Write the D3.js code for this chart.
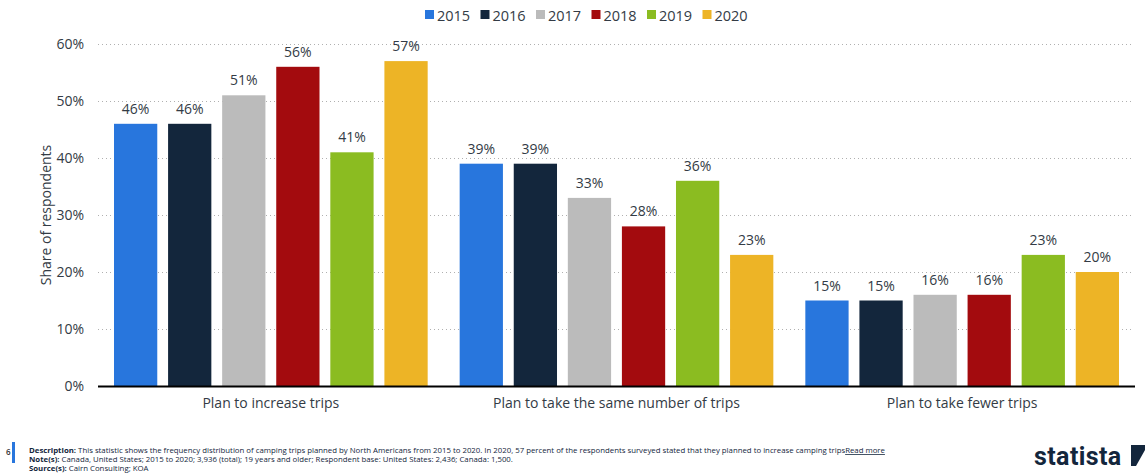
<!DOCTYPE html>
<html><head><meta charset="utf-8">
<script src="https://cdn.jsdelivr.net/npm/d3@7"></script>
<style>
body{margin:0;background:#fff;font-family:"Open Sans","Noto Sans",sans-serif;}
svg{display:block}
</style></head>
<body><svg id="c" width="1145" height="476"></svg>
<script>
const categories = ["Plan to increase trips","Plan to take the same number of trips","Plan to take fewer trips"];
const years = ["2015","2016","2017","2018","2019","2020"];
const values2015 = [46,39,15];
const values2016 = [46,39,15];
const values2017 = [51,33,16];
const values2018 = [56,28,16];
const values2019 = [41,36,23];
const values2020 = [57,23,20];
const yTicks = [0,10,20,30,40,50,60];
const colors = ["#2876dd","#13263c","#bbbbbb","#a30b0e","#8bbc21","#edb426"];

(function(){
const series = [values2015,values2016,values2017,values2018,values2019,values2020];
const svg = d3.select("#c");
const pLeft=98, pRight=1135, pTop=44, pBottom=386;
const x0 = d3.scaleBand().domain(categories).range([pLeft,pRight]);
const x1 = d3.scaleBand().domain(years).range([16, x0.bandwidth()-16]).paddingInner(0.2);
const y = d3.scaleLinear().domain([0,60]).range([pBottom,pTop]);
const textCol = "#333b45";

svg.append("g").selectAll("line").data(yTicks.filter(d=>d>0)).join("line")
  .attr("x1",pLeft).attr("x2",pRight-3).attr("y1",d=>y(d)+0.5).attr("y2",d=>y(d)+0.5)
  .attr("stroke","#b0b0b0").attr("stroke-width",1).attr("stroke-dasharray","1,3");

const yAxis = d3.axisLeft(y).tickValues(yTicks).tickFormat(d=>d+"%").tickSize(0).tickPadding(0);
const ga = svg.append("g").attr("transform",`translate(84,0)`).call(yAxis);
ga.select(".domain").remove();
ga.selectAll("text").attr("fill",textCol).attr("font-size",14).attr("font-family","Open Sans");

svg.append("text").attr("transform","translate(51,215) rotate(-90)").attr("text-anchor","middle")
  .attr("font-size",14).attr("fill",textCol).text("Share of respondents");

const groups = svg.append("g").selectAll("g").data(categories).join("g")
  .attr("transform",d=>`translate(${x0(d)},0)`);
groups.each(function(cat,ci){
  const g = d3.select(this);
  years.forEach((yr,yi)=>{
    const v = series[yi][ci];
    g.append("rect").attr("x",x1(yr)).attr("width",x1.bandwidth())
      .attr("y",y(v)).attr("height",y(0)-y(v)).attr("fill",colors[yi]);
    g.append("text").attr("x",x1(yr)+x1.bandwidth()/2).attr("y",y(v)-10)
      .attr("text-anchor","middle").attr("font-size",14).attr("fill",textCol).text(v+"%");
  });
});

svg.append("line").attr("x1",pLeft).attr("x2",pRight).attr("y1",pBottom+0.5).attr("y2",pBottom+0.5)
  .attr("stroke","#000").attr("stroke-width",2);

const xAxis = d3.axisBottom(x0).tickSize(0).tickPadding(0);
const gx = svg.append("g").attr("transform",`translate(0,${pBottom+12})`).call(xAxis);
gx.select(".domain").remove();
gx.selectAll("text").attr("fill",textCol).attr("font-size",14).attr("font-family","Open Sans").attr("dy","0.71em");

const lg = svg.append("g").selectAll("g").data(years).join("g")
  .attr("transform",(d,i)=>`translate(${425+i*55.5},0)`);
lg.append("rect").attr("x",0).attr("y",10).attr("width",9).attr("height",9).attr("fill",(d,i)=>colors[i]);
lg.append("text").attr("x",12).attr("y",20.5).attr("font-size",14.5).attr("fill",textCol).text(d=>d);

svg.append("text").attr("x",6).attr("y",455).attr("font-size",8).attr("font-weight",600).attr("fill","#333").text("6");
svg.append("rect").attr("x",12).attr("y",442).attr("width",3).attr("height",21).attr("fill","#2876dd");
const ft = svg.append("g").attr("font-size",7.8).attr("fill","#13263c");
const l1 = ft.append("text").attr("x",29).attr("y",453);
l1.append("tspan").attr("font-weight",700).text("Description: ");
l1.append("tspan").text("This statistic shows the frequency distribution of camping trips planned by North Americans from 2015 to 2020. In 2020, 57 percent of the respondents surveyed stated that they planned to increase camping trips");
l1.append("tspan").attr("text-decoration","underline").text("Read more");
const l2 = ft.append("text").attr("x",29).attr("y",462);
l2.append("tspan").attr("font-weight",700).text("Note(s): ");
l2.append("tspan").text("Canada, United States; 2015 to 2020; 3,936 (total); 19 years and older; Respondent base: United States: 2,436; Canada: 1,500.");
const l3 = ft.append("text").attr("x",29).attr("y",471);
l3.append("tspan").attr("font-weight",700).text("Source(s): ");
l3.append("tspan").text("Cairn Consulting; KOA");

svg.append("text").attr("x",1034).attr("y",465).attr("font-size",25).attr("font-weight",700)
  .attr("font-family","Roboto, 'Open Sans', sans-serif").attr("fill","#13263c").attr("letter-spacing",0.4).text("statista");
svg.append("path").attr("d","M1131,445 L1145,445 L1145,450 L1136,466 L1131,466 Z").attr("fill","#13263c");
})();
</script></body></html>
